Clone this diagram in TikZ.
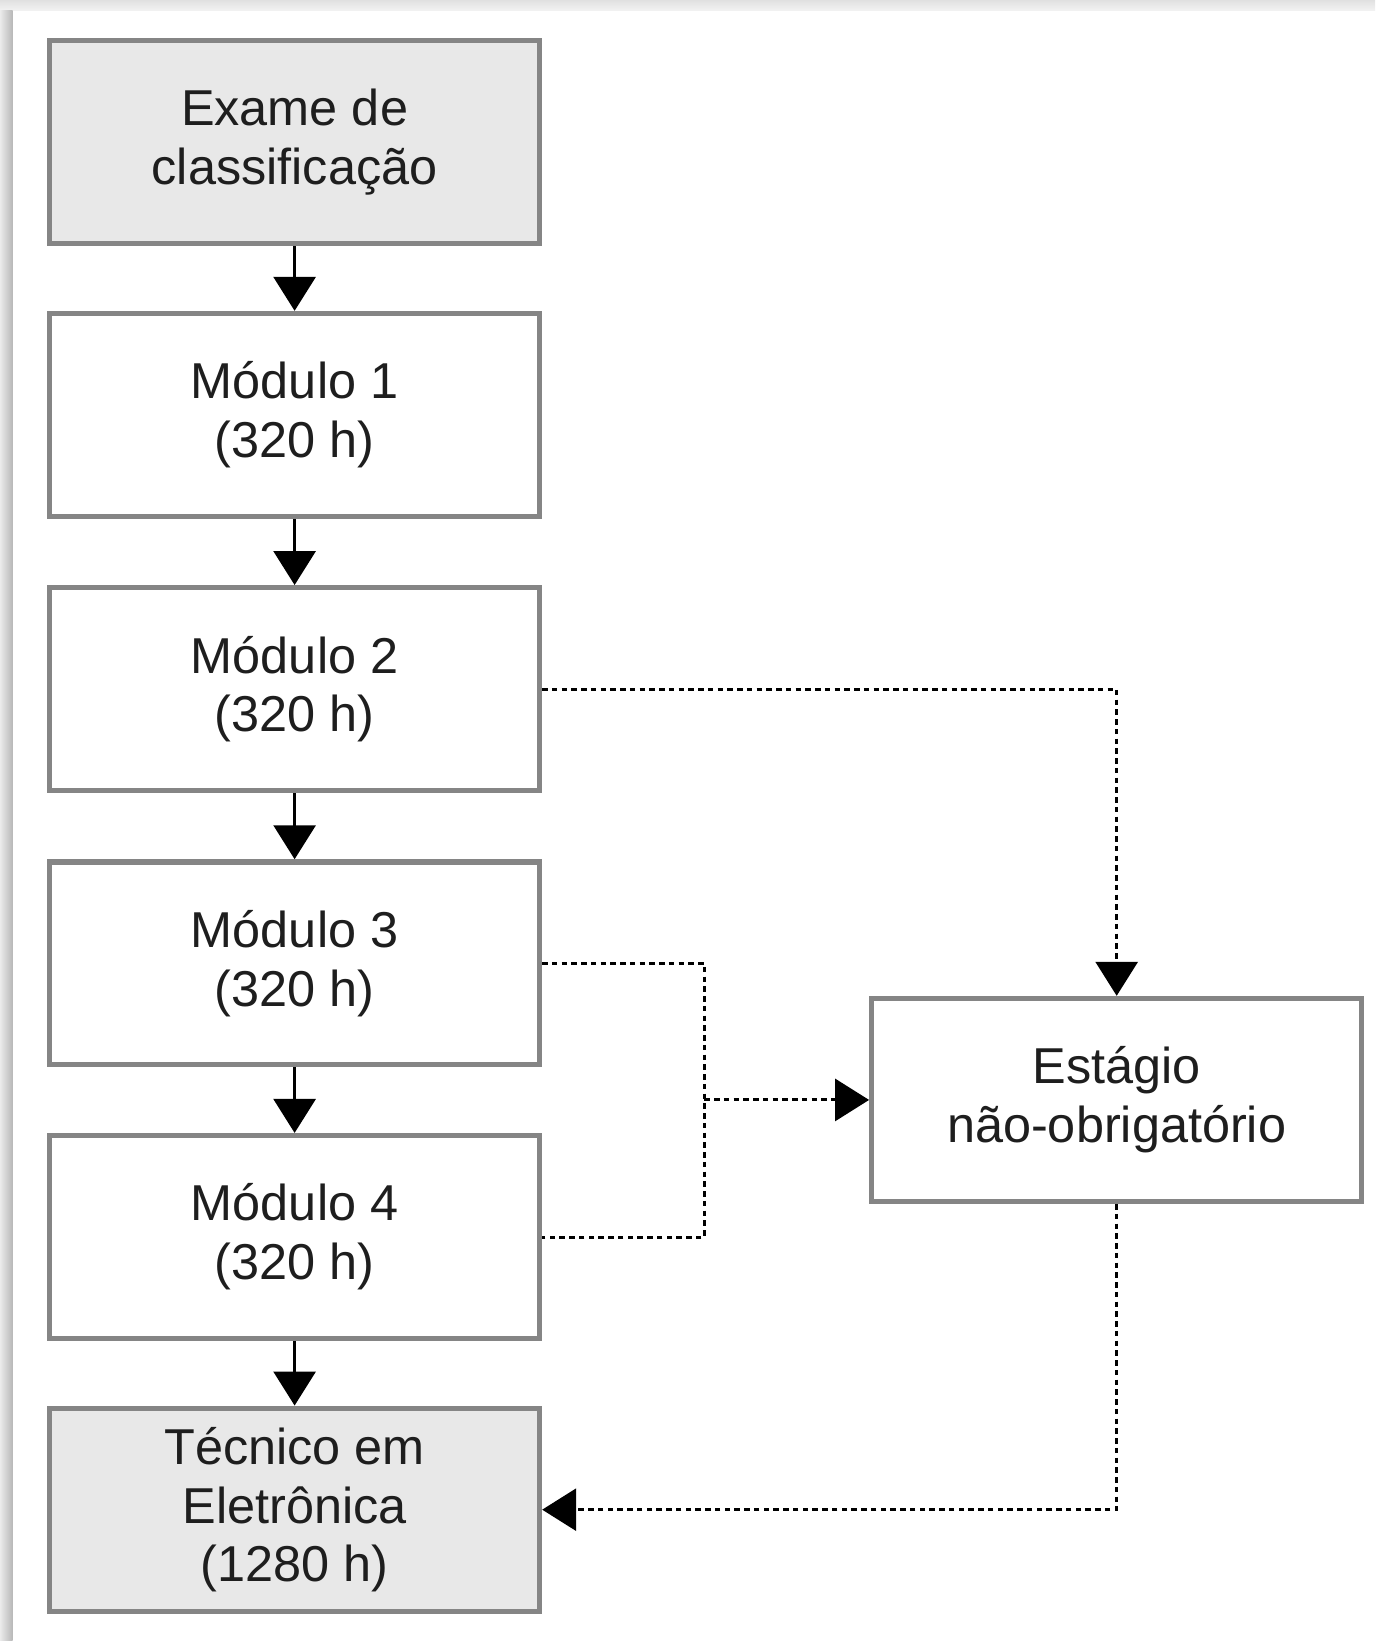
\documentclass[tikz,border=0pt]{standalone}
\usepackage{fontspec}
\setmainfont{Liberation Sans}
\usetikzlibrary{arrows.meta}
\definecolor{boxline}{HTML}{858585}
\definecolor{boxfill}{HTML}{E8E8E8}
\definecolor{txt}{HTML}{1E1E1E}
\begin{document}
\begin{tikzpicture}[x=0.020928cm,y=-0.020928cm,
  stage/.style={draw=boxline, line width=3pt, minimum width=9.80cm, minimum height=4.06cm,
    align=center, text=txt, font=\fontsize{28.7}{33.5}\selectfont, inner sep=0pt},
  graybox/.style={stage, fill=boxfill},
  whitebox/.style={stage, fill=white},
  flow/.style={line width=1.7pt, -{Triangle[width=0.84cm,length=0.68cm]}},
  opt/.style={line width=1.7pt, dash pattern=on 0.11cm off 0.085cm},
  optarrow/.style={opt, -{Triangle[width=0.84cm,length=0.68cm]}}]
\useasboundingbox (0,0) rectangle (1314,1568);
% background frame
\fill[white] (0,0) rectangle (1314,1568);
\shade[top color=black!12, bottom color=black!5] (0,0) rectangle (1314,10);
\shade[left color=black!8, right color=black!28] (0,10) rectangle (12,1568);
% nodes
\node[graybox]  (ex) at (281.5,136)   {Exame de\\classificação};
\node[whitebox] (m1) at (281.5,396.5) {Módulo 1\\(320 h)};
\node[whitebox] (m2) at (281.5,658.5) {Módulo 2\\(320 h)};
\node[whitebox] (m3) at (281.5,920.5) {Módulo 3\\(320 h)};
\node[whitebox] (m4) at (281.5,1182)  {Módulo 4\\(320 h)};
\node[graybox]  (te) at (281.5,1442.5){Técnico em\\Eletrônica\\(1280 h)};
\node[whitebox] (es) at (1067,1051)   {Estágio\\não-obrigatório};
\coordinate (jx) at (673,0);
% solid flow
\draw[flow] (ex) -- (m1);
\draw[flow] (m1) -- (m2);
\draw[flow] (m2) -- (m3);
\draw[flow] (m3) -- (m4);
\draw[flow] (m4) -- (te);
% dotted optional paths
\draw[optarrow] (m2.east) -| (es.north);
\draw[opt] (m3.east) -- (m3.east -| jx) -- (m4.east -| jx) -- (m4.east);
\draw[optarrow] (es.west -| jx) -- (es.west);
\draw[optarrow] (es.south) |- (te.east);
\end{tikzpicture}
\end{document}
